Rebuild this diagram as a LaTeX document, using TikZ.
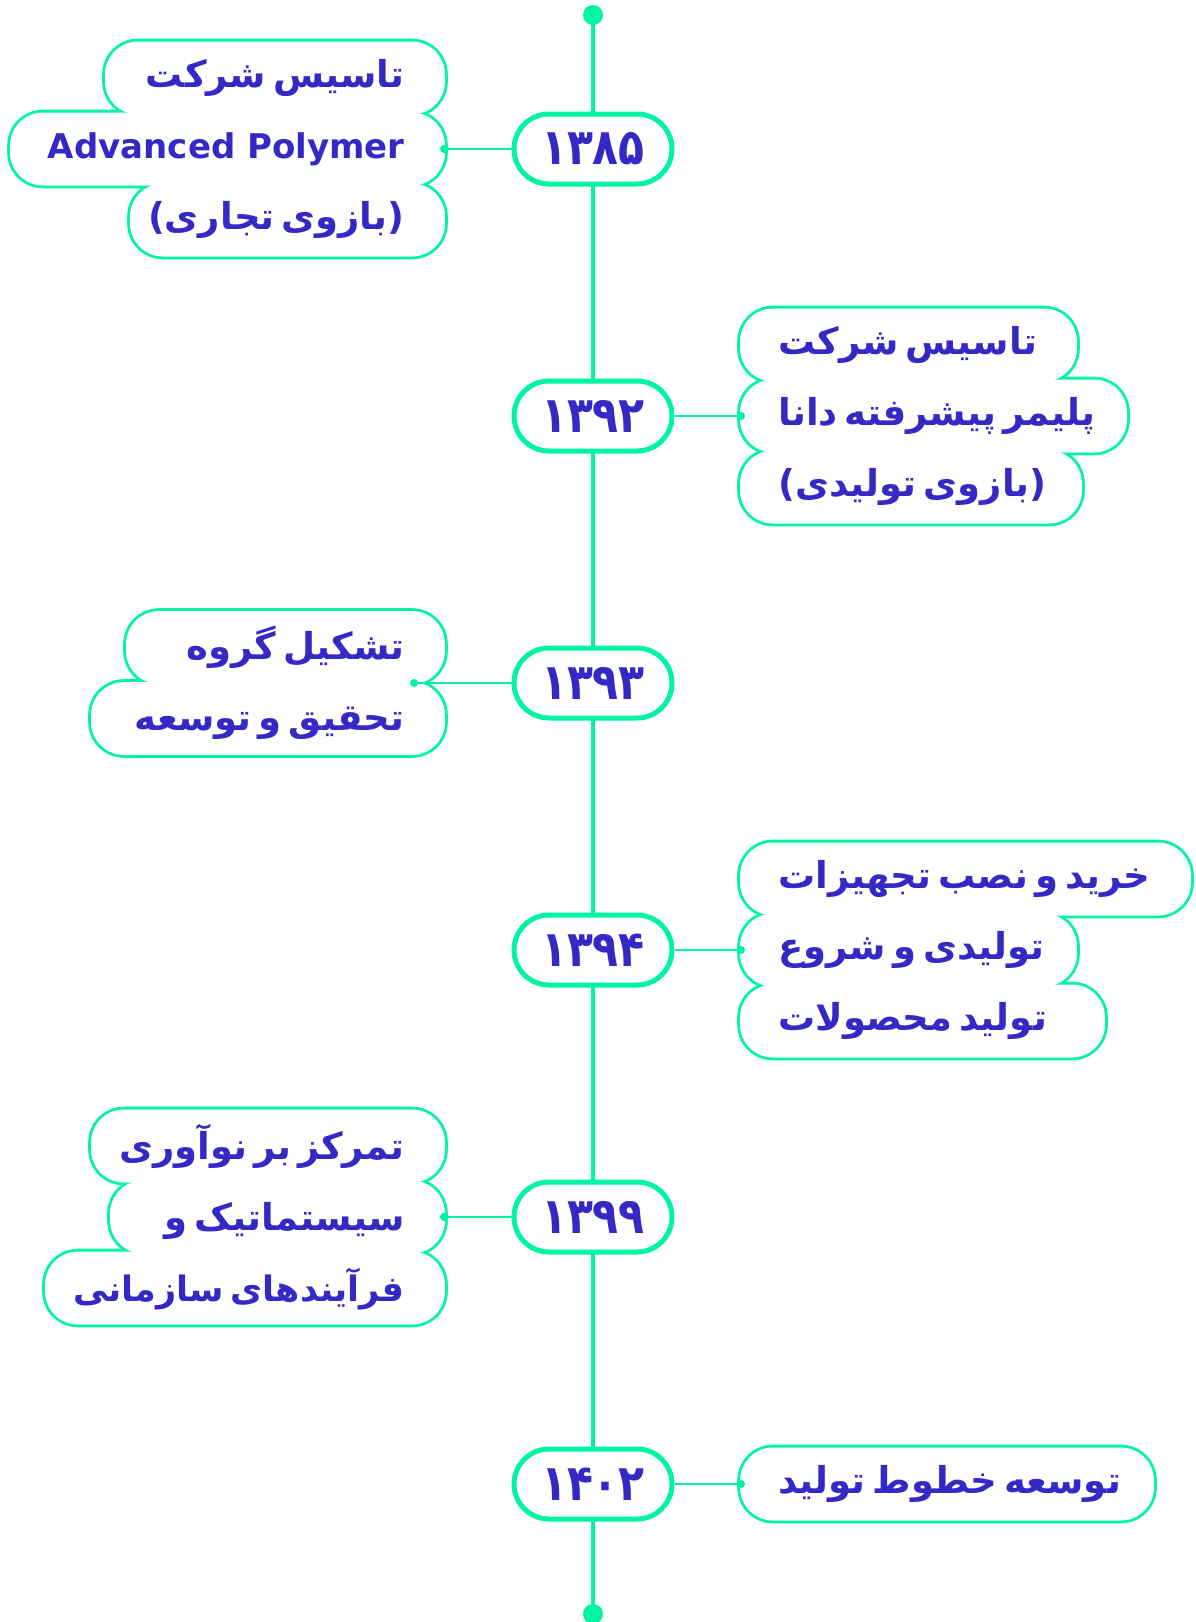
\documentclass[tikz,border=0pt]{standalone}
\usepackage{fontspec}
\setmainfont{DejaVu Sans}
\newfontfamily\fafont[Script=Arabic, WordSpace=0.55]{DejaVu Sans}
\newfontfamily\yearfont[Script=Arabic, FakeStretch=0.85]{DejaVu Sans}
\TeXXeTstate=1
\usetikzlibrary{positioning}
\definecolor{mint}{RGB}{0,245,160}
\definecolor{ink}{RGB}{54,40,196}
\pgfdeclarelayer{background}
\pgfsetlayers{background,main}
\tikzstyle{year} = [rectangle, draw=mint, fill=white, line width=2.5pt, rounded corners=17.5pt,
    minimum width=79pt, minimum height=35pt, inner sep=0pt, text=ink,
    font=\yearfont\bfseries\fontsize{25}{25}\selectfont]
\tikzstyle{lrow} = [rectangle, fill=white, draw=white, line width=1pt, rounded corners=16pt,
    minimum height=35.5pt, inner sep=0pt, outer sep=0pt, anchor=east]
\tikzstyle{rrow} = [lrow, anchor=west]
\tikzstyle{cloud} = [draw=mint, line width=3.8pt, rounded corners=16pt]
\tikzstyle{boxtext} = [inner sep=0pt, text=ink, font=\fafont\bfseries\fontsize{18.5}{35.5}\selectfont]
\tikzstyle{ltext} = [boxtext, align=right, anchor=east]
\tikzstyle{rtext} = [boxtext, align=left, anchor=west]
\tikzstyle{link} = [draw=mint, line width=1.35pt]
\tikzstyle{stem} = [draw=mint, line width=2.25pt]
\tikzstyle{dot} = [fill=mint]

\begin{document}
\begin{tikzpicture}[x=0.5pt, y=-0.5pt, node distance=96pt]
    \useasboundingbox (0,0) rectangle (1195,1622);
    % Place years
    \node [year] (y1385) at (593,149) {۱۳۸۵};
    \node [year, below=of y1385] (y1392) {۱۳۹۲};
    \node [year, below=of y1392] (y1393) {۱۳۹۳};
    \node [year, below=of y1393] (y1394) {۱۳۹۴};
    \node [year, below=of y1394] (y1399) {۱۳۹۹};
    \node [year, below=of y1399] (y1402) {۱۴۰۲};
    \coordinate (top) at (593,15);
    \coordinate (bottom) at (593,1614);
    % Place cloud rows
    \node [lrow, minimum width=169pt]   (a1) at (444,78) {};
    \node [lrow, minimum width=216.5pt] (a2) at (444,149) {};
    \node [lrow, minimum width=156.5pt] (a3) at (444,220) {};
    \node [rrow, minimum width=167.5pt] (b1) at (741,345) {};
    \node [rrow, minimum width=192.5pt] (b2) at (741,416) {};
    \node [rrow, minimum width=170pt]   (b3) at (741,487) {};
    \node [lrow, minimum width=158.5pt] (c1) at (444,647.5) {};
    \node [lrow, minimum width=176pt]   (c2) at (444,718.5) {};
    \node [rrow, minimum width=224.5pt] (d1) at (741,879) {};
    \node [rrow, minimum width=167.5pt] (d2) at (741,950) {};
    \node [rrow, minimum width=181.5pt] (d3) at (741,1021) {};
    \node [lrow, minimum width=176pt]   (e1) at (444,1146) {};
    \node [lrow, minimum width=166.5pt] (e2) at (444,1217) {};
    \node [lrow, minimum width=199pt]   (e3) at (444,1288) {};
    \node [rrow, minimum width=206pt]   (f1) at (741,1484) {};
    \coordinate (c12) at ([xshift=-15pt]c1.south east);
    % Place texts
    \node [ltext] (t1385) at (405,149) {\beginR تاسیس شرکت\endR\\{\rmfamily\fontsize{17}{35.5}\selectfont Advanced Polymer}\\\beginR(بازوی تجاری)\endR};
    \node [rtext] (t1392) at (778,416) {\beginR تاسیس شرکت\endR\\\beginR پلیمر پیشرفته دانا\endR\\\beginR(بازوی تولیدی)\endR};
    \node [ltext] (t1393) at (405,683) {\beginR تشکیل گروه\endR\\\beginR تحقیق و توسعه\endR};
    \node [rtext] (t1394) at (778,950) {\beginR خرید و نصب تجهیزات\endR\\\beginR تولیدی و شروع\endR\\\beginR تولید محصولات\endR};
    \node [ltext] (t1399) at (405,1217) {\beginR تمرکز بر نوآوری\endR\\\beginR سیستماتیک و\endR\\\beginR{\fontsize{17.5}{35.5}\selectfont فرآیندهای سازمانی}\endR};
    \node [rtext] (t1402) at (778,1484) {\beginR توسعه خطوط تولید\endR};
    % Draw outlines
    \begin{pgfonlayer}{background}
    \path [stem] (top) -- (bottom);
    \path [dot] (top) circle (5pt);
    \path [dot] (bottom) circle (5pt);
    \path [cloud] (a1.north west) rectangle (a1.south east);
    \path [cloud] (a2.north west) rectangle (a2.south east);
    \path [cloud] (a3.north west) rectangle (a3.south east);
    \path [cloud] (b1.north west) rectangle (b1.south east);
    \path [cloud] (b2.north west) rectangle (b2.south east);
    \path [cloud] (b3.north west) rectangle (b3.south east);
    \path [cloud] (c1.north west) rectangle (c1.south east);
    \path [cloud] (c2.north west) rectangle (c2.south east);
    \path [cloud] (d1.north west) rectangle (d1.south east);
    \path [cloud] (d2.north west) rectangle (d2.south east);
    \path [cloud] (d3.north west) rectangle (d3.south east);
    \path [cloud] (e1.north west) rectangle (e1.south east);
    \path [cloud] (e2.north west) rectangle (e2.south east);
    \path [cloud] (e3.north west) rectangle (e3.south east);
    \path [cloud] (f1.north west) rectangle (f1.south east);
    \end{pgfonlayer}
    % Draw edges
    \path [link] (y1385.west) -- (a2.east);
    \path [link] (y1392.east) -- (b2.west);
    \path [link] (y1393.west) -- (c12);
    \path [link] (y1394.east) -- (d2.west);
    \path [link] (y1399.west) -- (e2.east);
    \path [link] (y1402.east) -- (f1.west);
    \path [dot] (a2.east) circle (2pt);
    \path [dot] (b2.west) circle (2pt);
    \path [dot] (c12) circle (2pt);
    \path [dot] (d2.west) circle (2pt);
    \path [dot] (e2.east) circle (2pt);
    \path [dot] (f1.west) circle (2pt);
\end{tikzpicture}
\end{document}
